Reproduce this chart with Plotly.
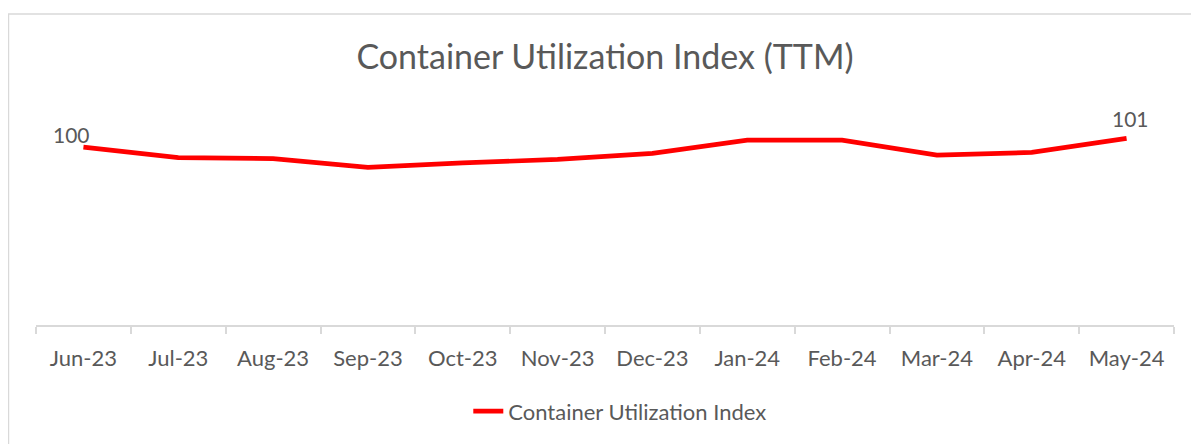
import plotly.graph_objects as go

months = ["Jun-23", "Jul-23", "Aug-23", "Sep-23", "Oct-23", "Nov-23",
          "Dec-23", "Jan-24", "Feb-24", "Mar-24", "Apr-24", "May-24"]
index_values = [100.3, 99.1, 99.0, 98.0, 98.5, 98.9,
                99.6, 101.1, 101.1, 99.4, 99.7, 101.3]
series_name = "Container Utilization Index"
title_text = "Container Utilization Index (TTM)"

FONT = "Lato"
GREY = "#595959"
LINE_RED = "#FF0000"
AXIS_GREY = "#D9D9D9"

fig = go.Figure()
fig.add_trace(go.Scatter(
    x=months, y=index_values, mode="lines", name=series_name,
    line=dict(color=LINE_RED, width=4.7),
    hoverinfo="x+y",
))

# data labels on first and last point
fig.add_annotation(x=months[0], y=index_values[0], text=f"{round(index_values[0])}",
                   showarrow=False, xshift=-12, yshift=13,
                   font=dict(family=FONT, size=21, color=GREY))
fig.add_annotation(x=months[-1], y=index_values[-1], text=f"{round(index_values[-1])}",
                   showarrow=False, xshift=4, yshift=20,
                   font=dict(family=FONT, size=21, color=GREY))

# chart-area border (only top & left visible in the crop)
fig.add_shape(type="rect", xref="paper", yref="paper",
              x0=-0.0242, x1=1.6, y0=-1.0, y1=1.42,
              line=dict(color=AXIS_GREY, width=1.5), fillcolor="rgba(0,0,0,0)",
              layer="below")

fig.update_layout(
    width=1191, height=436,
    margin=dict(l=28, r=25, t=98, b=110),
    paper_bgcolor="white", plot_bgcolor="white",
    title=dict(text=title_text, x=0.5, xref="paper", xanchor="center",
               y=1 - 49 / 436, yanchor="middle",
               font=dict(family=FONT, size=34, color=GREY)),
    showlegend=True,
    legend=dict(orientation="h", x=0.513, xanchor="center", y=-0.394, yanchor="middle",
                font=dict(family=FONT, size=22, color=GREY),
                bgcolor="rgba(0,0,0,0)"),
    xaxis=dict(type="category", showline=True, linecolor=AXIS_GREY, linewidth=1.5,
               showgrid=False, ticks="outside", tickson="boundaries",
               ticklen=7, tickcolor=AXIS_GREY, tickwidth=1.5,
               ticklabelstandoff=13,
               tickfont=dict(family=FONT, size=22, color=GREY),
               range=[-0.5, 11.5], fixedrange=True),
    yaxis=dict(visible=False, range=[80, 105], showgrid=False, zeroline=False,
               fixedrange=True),
)

fig.write_html("out.html")
